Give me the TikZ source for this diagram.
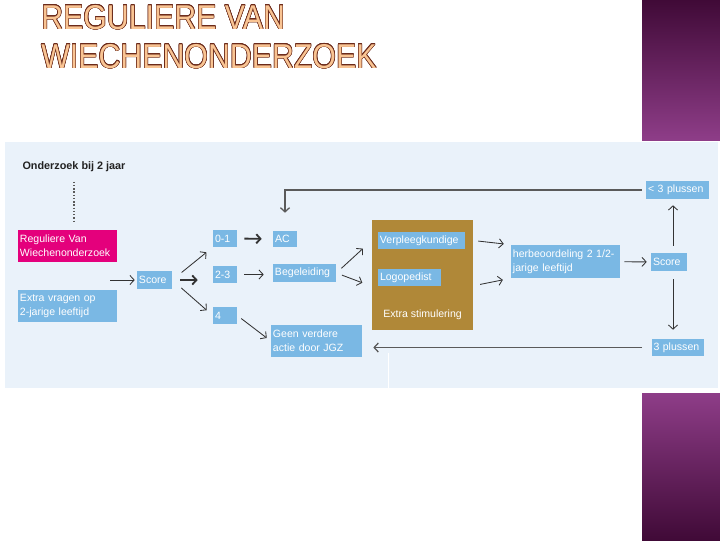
\documentclass[tikz,border=0pt]{standalone}
\usepackage{fontspec}
\usepackage[dvipsnames]{xcolor}
\usepackage{contour}
\usetikzlibrary{arrows.meta}
\newfontfamily\diafont{Liberation Sans}
\newcommand\diatekst{\diafont\fontsize{7.5}{10}\selectfont}
\newcommand\titeltekst{\diafont\fontsize{24.5}{28.5}\selectfont}
\contourlength{0.45pt}
\definecolor{paneel}{HTML}{EAF2FA}
\definecolor{vakblauw}{HTML}{7AB8E4}
\definecolor{vakroze}{HTML}{E4007C}
\definecolor{bruin}{HTML}{B08838}
\definecolor{pijlgrijs}{HTML}{333333}
\definecolor{lijngrijs}{HTML}{5A5A5A}
\definecolor{tekstgrijs}{HTML}{222222}
\definecolor{paarsdonker}{HTML}{400A37}
\definecolor{paarslicht}{HTML}{8E3D88}
\definecolor{titelvul}{HTML}{F9C493}
\definecolor{titelrand}{HTML}{6B2A1A}

\begin{document}
\begin{tikzpicture}[x=0.025cm,y=-0.025cm,>={Straight Barb[length=3pt,width=6.5pt]},
    pijl/.style={->,draw=pijlgrijs,line width=0.6pt},
    dikpijl/.style={pijl,line width=1.3pt},
    lijn/.style={pijl,draw=lijngrijs,line width=0.9pt},
    stippel/.style={draw=lijngrijs,line width=1pt,dash pattern=on 1pt off 1.3pt},
    blok/.style={fill=vakblauw,text=white,font=\diatekst,inner xsep=0.05cm,inner ysep=0pt,align=left},
    roze/.style={blok,fill=vakroze}]
    \useasboundingbox (0,0) rectangle (720,540);
    \fill[white] (0,0) rectangle (720,540);
    \shade[top color=paarsdonker,bottom color=paarslicht] (642,0) rectangle (720,140);
    \shade[top color=paarslicht,bottom color=paarsdonker] (642,393) rectangle (720,540);
    \fill[paneel] (5,142) rectangle (718,388);
    \draw[white,line width=0.6pt] (388,353) -- (388,388);

    % titel
    \node[anchor=base west,inner sep=0pt,font=\titeltekst,text=titelvul] (titel1) at (41,29)
        {\scalebox{0.88}[1]{\contour{titelrand}{REGULIERE VAN}}};
    \node[anchor=base west,inner sep=0pt,font=\titeltekst,text=titelvul] (titel2) at (41,68)
        {\scalebox{0.88}[1]{\contour{titelrand}{WIECHENONDERZOEK}}};

    % schema
    \node[font=\diafont\fontsize{7.7}{9}\selectfont\bfseries,text=tekstgrijs,inner sep=1pt] (onderzoek) at (74,167) {Onderzoek bij 2 jaar};
    \node[roze,text width=2.375cm,minimum height=0.8cm] (regulier) at (67.5,246) {Reguliere Van\\Wiechenonderzoek};
    \node[blok,text width=2.375cm,minimum height=0.8cm] (extra) at (67.5,306) {Extra vragen op\\2-jarige leeftijd};
    \coordinate (instroom) at (110,280);
    \node[blok,text width=0.775cm,minimum height=0.45cm] (score) at (154.5,280) {Score};
    \node[blok,text width=0.5cm,minimum height=0.425cm] (nul) at (225,238.5) {0-1};
    \node[blok,text width=0.5cm,minimum height=0.425cm] (twee) at (225,274.5) {2-3};
    \node[blok,text width=0.5cm,minimum height=0.425cm] (vier) at (225,315.5) {4};
    \node[blok,text width=0.5cm,minimum height=0.4cm] (ac) at (285,239) {AC};
    \node[blok,text width=1.475cm,minimum height=0.45cm] (begeleiding) at (304.5,273) {Begeleiding};
    \node[blok,text width=2.175cm,minimum height=0.8cm] (geen) at (316.5,341) {Geen verdere\\actie door JGZ};
    \node[fill=bruin,minimum width=2.525cm,minimum height=2.75cm,inner sep=0pt] (stimulering) at (422.5,275) {};
    \node[blok,text width=2.075cm,minimum height=0.425cm] (verpleeg) at (421.5,240.5) {Verpleegkundige};
    \node[blok,text width=1.475cm,minimum height=0.425cm] (logo) at (409.5,277.5) {Logopedist};
    \node[font=\diatekst,text=white,anchor=west,inner sep=0pt] (stimtekst) at (383,315) {Extra stimulering};
    \node[blok,text width=2.625cm,minimum height=0.825cm] (herbeoordeling) at (565.5,261.5) {herbeoordeling 2 1/2-\\jarige leeftijd};
    \node[blok,text width=0.8cm,minimum height=0.45cm] (score2) at (669,262) {Score};
    \node[blok,text width=1.475cm,minimum height=0.45cm] (minder) at (677.5,190) {< 3 plussen};
    \node[blok,text width=1.2cm,minimum height=0.425cm] (drie) at (677.5,347.5) {3 plussen};

    \draw[stippel,shorten <=0.2cm,shorten >=0.2cm] (onderzoek.south) -- (onderzoek.south |- regulier.north);

    \path[every edge/.style={pijl}]
        (instroom) edge[shorten >=0.05cm] (score)
        (score.east) edge[shorten <=0.3cm,shorten >=0.2cm] (nul.south west)
        (score.east) edge[dikpijl,shorten <=0.2cm,shorten >=0.375cm] (score.east -| twee.west)
        (score.east) edge[shorten <=0.3cm,shorten >=0.2cm] (vier.west)
        (nul.east) edge[dikpijl,shorten <=0.175cm,shorten >=0.275cm] (ac.west)
        (twee.east) edge[shorten <=0.175cm,shorten >=0.225cm] (twee.east -| begeleiding.west)
        (vier.east) edge[shorten <=0.125cm,shorten >=0.125cm] (geen.west)
        (begeleiding.east) edge[shorten <=0.175cm,shorten >=0.3cm] (stimulering.west |- verpleeg)
        (begeleiding.east) edge[shorten <=0.15cm,shorten >=0.25cm] (stimulering.west |- logo.south)
        (verpleeg.east -| stimulering.east) edge[shorten <=0.125cm,shorten >=0.175cm] (herbeoordeling.north west)
        ([yshift=-0.27cm]stimulering.east) edge[shorten <=0.175cm,shorten >=0.2cm] (herbeoordeling.south west)
        (herbeoordeling) edge[shorten <=0.1cm,shorten >=0.1cm] (score2)
        ([xshift=0.1cm]score2.north) edge[shorten <=0.175cm,shorten >=0.15cm] ([xshift=0.1cm]score2.north |- minder.south)
        ([xshift=0.1cm]score2.south) edge[shorten <=0.2cm,shorten >=0.225cm] ([xshift=0.1cm]score2.south |- drie.north)
        ;
    \draw[lijn,shorten <=0.1cm,shorten >=0.45cm] (minder.west) -| (ac.north);
    \draw[lijn,shorten <=0.225cm,shorten >=0.275cm] (drie.west) -- (drie.west -| geen.east);
\end{tikzpicture}
\end{document}
